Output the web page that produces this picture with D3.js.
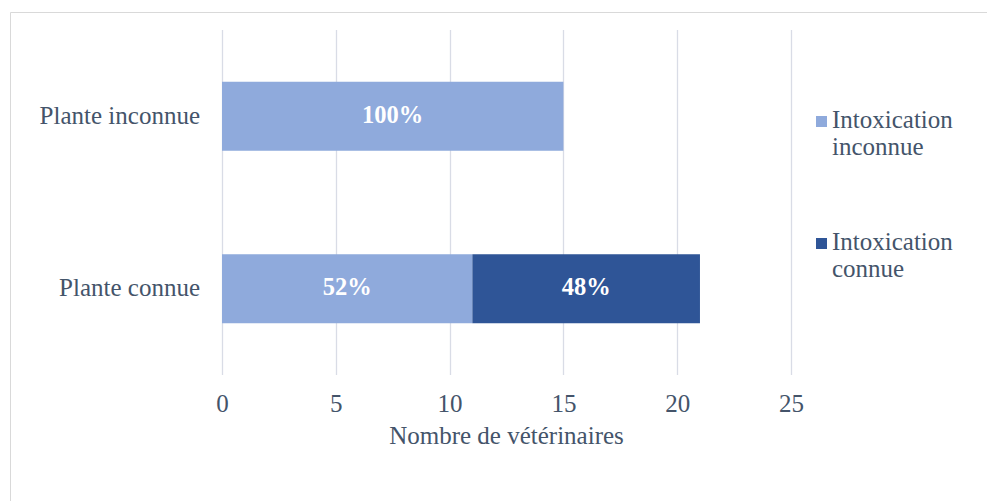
<!DOCTYPE html>
<html>
<head>
<meta charset="utf-8">
<script src="https://cdn.jsdelivr.net/npm/d3@7"></script>
<style>
  html, body { margin: 0; padding: 0; background: #fff; }
  svg { display: block; }
</style>
</head>
<body>
<svg id="chart" width="987" height="501"></svg>
<script>
// Categories (top to bottom) and the stacked series
const categories = ["Plante inconnue", "Plante connue"];
const seriesNames = ["Intoxication inconnue", "Intoxication connue"];
const intoxInconnue = [15, 11];
const intoxConnue = [0, 10];
const percentLabels = [["100%", ""], ["52%", "48%"]];
const xTicks = [0, 5, 10, 15, 20, 25];
const colors = ["#8faadc", "#2f5597"];

const FONT = "'Liberation Serif', 'Times New Roman', Times, 'DejaVu Serif', serif";
const TEXT_COLOR = "#44546a";
const FS = 25;

const svg = d3.select("#chart").attr("font-family", FONT);
const W = 987, H = 501;
const margin = { left: 222, right: 196, top: 30, bottom: 126 };

// Outer chart frame
svg.append("path")
  .attr("d", `M10.5,${H} L10.5,12.5 L${W},12.5`)
  .attr("fill", "none")
  .attr("stroke", "#d9d9d9")
  .attr("stroke-width", 1);

const x = d3.scaleLinear().domain([0, 25]).range([margin.left, margin.left + 569]);
const y = d3.scaleBand().domain(categories).range([margin.top, H - margin.bottom])
  .paddingInner(0.6).paddingOuter(0.3);

// Vertical gridlines
svg.append("g").selectAll("line").data(xTicks).join("line")
  .attr("x1", d => Math.round(x(d)) + 0.5).attr("x2", d => Math.round(x(d)) + 0.5)
  .attr("y1", margin.top).attr("y2", H - margin.bottom)
  .attr("stroke", "#d9dce6").attr("stroke-width", 1.3);

// Stacked data
const rows = categories.map((c, i) => ({ cat: c, a: intoxInconnue[i], b: intoxConnue[i] }));
const stack = d3.stack().keys(["a", "b"])(rows);

const layers = svg.append("g").selectAll("g").data(stack).join("g")
  .attr("fill", (d, i) => colors[i]);
layers.selectAll("rect").data(d => d.filter(s => s[1] - s[0] > 0)).join("rect")
  .attr("x", d => x(d[0]))
  .attr("width", d => x(d[1]) - x(d[0]))
  .attr("y", d => y(d.data.cat))
  .attr("height", y.bandwidth());

// Percentage labels inside bars
stack.forEach((layer, li) => {
  layer.forEach((s, ci) => {
    if (s[1] - s[0] <= 0) return;
    svg.append("text")
      .attr("x", (x(s[0]) + x(s[1])) / 2)
      .attr("y", y(s.data.cat) + y.bandwidth() / 2 + 6.5)
      .attr("text-anchor", "middle")
      .attr("font-family", FONT)
      .attr("font-size", 24.5)
      .attr("font-weight", "bold")
      .attr("fill", "#ffffff")
      .text(percentLabels[ci][li]);
  });
});

// Category labels
svg.append("g").selectAll("text").data(categories).join("text")
  .attr("x", 200)
  .attr("y", d => y(d) + y.bandwidth() / 2 + 7.5)
  .attr("text-anchor", "end")
  .attr("font-family", FONT)
  .attr("font-size", FS)
  .attr("fill", TEXT_COLOR)
  .text(d => d);

// X axis tick labels
const xAxis = svg.append("g")
  .attr("transform", `translate(0,${H - margin.bottom})`)
  .call(d3.axisBottom(x).tickValues(xTicks).tickSize(0).tickPadding(19).tickFormat(d3.format("d")));
xAxis.attr("font-family", FONT).attr("font-size", FS);
xAxis.select(".domain").remove();
xAxis.selectAll("text").attr("fill", TEXT_COLOR);

// Axis title
svg.append("text")
  .attr("x", (x(0) + x(25)) / 2)
  .attr("y", 444)
  .attr("text-anchor", "middle")
  .attr("font-family", FONT)
  .attr("font-size", FS)
  .attr("fill", TEXT_COLOR)
  .text("Nombre de vétérinaires");

// Legend
const legendY = [128, 250];
const legendLines = [["Intoxication", "inconnue"], ["Intoxication", "connue"]];
seriesNames.forEach((name, i) => {
  const g = svg.append("g");
  g.append("rect")
    .attr("x", 816).attr("y", legendY[i] - 12)
    .attr("width", 11).attr("height", 11)
    .attr("fill", colors[i]);
  const t = g.append("text")
    .attr("x", 832).attr("y", legendY[i])
    .attr("font-family", FONT)
    .attr("font-size", FS)
    .attr("fill", TEXT_COLOR);
  legendLines[i].forEach((line, k) => {
    t.append("tspan").attr("x", 832).attr("dy", k === 0 ? 0 : 26.5).text(line);
  });
});
</script>
</body>
</html>
